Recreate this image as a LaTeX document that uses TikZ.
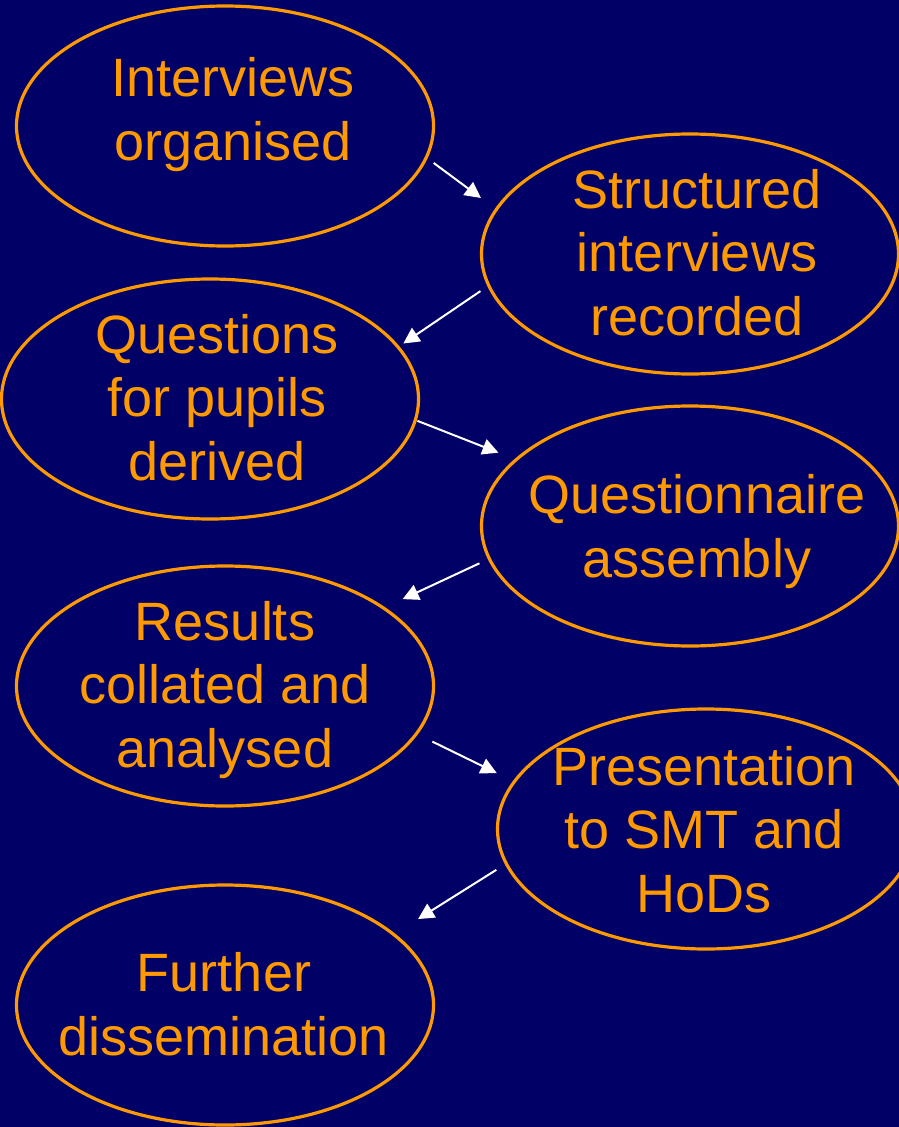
\documentclass[tikz,border=0pt]{standalone}
\usepackage{fontspec}
\setmainfont{Liberation Sans}
\usetikzlibrary{arrows.meta,shapes.geometric}
\definecolor{navy}{HTML}{000066}
\definecolor{amber}{HTML}{FF9900}
\tikzset{
  stage/.style={ellipse,draw=amber,line width=3.2pt,minimum width=417pt,minimum height=240pt,inner sep=0pt,outer sep=0pt},
  words/.style={text=amber,align=center,anchor=base,inner sep=0pt,font=\fontsize{54}{63.5}\selectfont},
  flow/.style={draw=white,line width=2pt,-{Triangle[length=16pt,width=16pt]}}
}

\begin{document}
\begin{tikzpicture}[x=1pt,y=-1pt]
                \fill[navy] (0,0) rectangle (899,1127);
                \useasboundingbox (0,0) rectangle (899,1127);
                \node[stage] (org) at (225,126) {};
                \node[stage] (rec) at (690,254) {};
                \node[stage] (der) at (210,399) {};
                \node[stage] (ass) at (690,526) {};
                \node[stage] (ana) at (225,686) {};
                \node[stage] (pre) at (706,829) {};
                \node[stage] (dis) at (225,1005) {};
                % the base anchor sits on the last line
                \node[words] (org-t) at (233,160) {Interviews\\organised};
                \node[words] (rec-t) at (697,335) {Structured\\interviews\\recorded};
                \node[words] (der-t) at (217,480) {Questions\\for pupils\\derived};
                \node[words] (ass-t) at (697,577) {Questionnaire\\assembly};
                \node[words] (ana-t) at (225,767) {Results\\collated and\\analysed};
                \node[words] (pre-t) at (704,912) {Presentation\\to SMT and\\HoDs};
                \node[words] (dis-t) at (224,1055) {Further\\dissemination};
                \foreach \from/\fa/\to/\ta/\s/\e in {org/-10.9/rec/165.0/9.5pt/20.7pt,
                    rec/190.9/der/16.5/10.4pt/7pt, der/-6.3/ass/159.5/2.3pt/19.3pt,
                    ass/190.8/ana/26.6/11.4pt/20.8pt, ana/-15.1/pre/165.3/19pt/20.9pt,
                    pre/191.4/dis/24.0/12.4pt/30.8pt}
                    \draw[flow] ([shift={(\fa:\s)}]\from.\fa) -- ([shift={(\ta:\e)}]\to.\ta);
\end{tikzpicture}
\end{document}
